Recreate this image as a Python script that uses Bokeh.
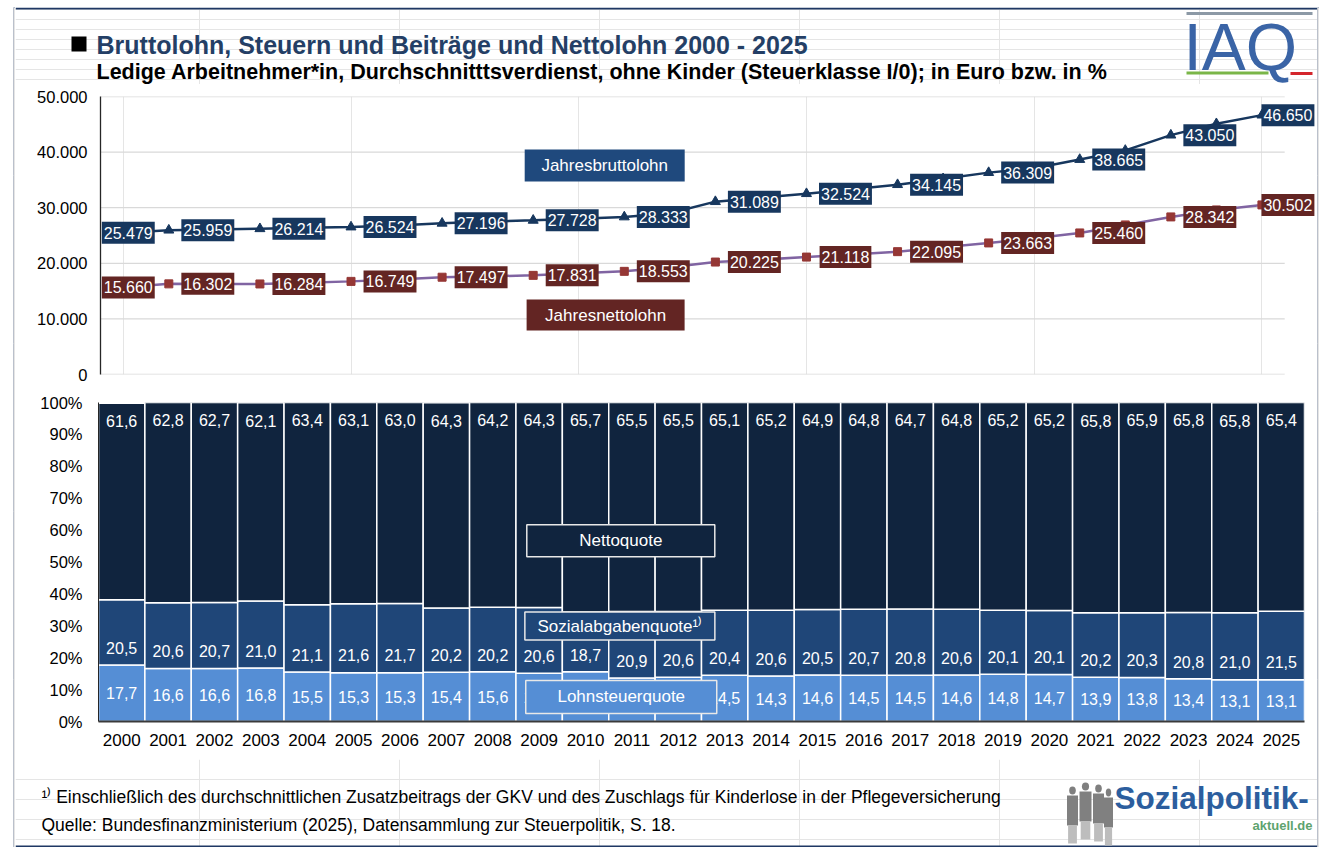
import numpy as np
from bokeh.plotting import figure
from bokeh.layouts import column, row
from bokeh.models import Range1d, FixedTicker, CustomJSTickFormatter, ColumnDataSource, Spacer
from bokeh.core.properties import value
from bokeh.embed import file_html
from bokeh.resources import INLINE

# ---------------- data ----------------
years = list(range(2000, 2026))
brutto = [25479, 25959, 26100, 26214, 26400, 26524, 26800, 27196, 27500, 27728,
          28000, 28333, 29000, 31089, 31800, 32524, 33300, 34145, 35200, 36309,
          37100, 38665, 40300, 43050, 45100, 46650]
netto = [15660, 16302, 16290, 16284, 16500, 16749, 17100, 17497, 17650, 17831,
         18200, 18553, 19300, 20225, 20650, 21118, 21600, 22095, 22900, 23663,
         24500, 25460, 26900, 28342, 29600, 30502]
label_years = [2000, 2001, 2003, 2005, 2007, 2009, 2011, 2013, 2015, 2017, 2019, 2021, 2023, 2025]

lohnsteuer_quote = [17.7, 16.6, 16.6, 16.8, 15.5, 15.3, 15.3, 15.4, 15.6, 15.1, 15.6, 13.6, 13.9,
                    14.5, 14.3, 14.6, 14.5, 14.5, 14.6, 14.8, 14.7, 13.9, 13.8, 13.4, 13.1, 13.1]
sozialabgaben_quote = [20.5, 20.6, 20.7, 21.0, 21.1, 21.6, 21.7, 20.2, 20.2, 20.6, 18.7, 20.9, 20.6,
                       20.4, 20.6, 20.5, 20.7, 20.8, 20.6, 20.1, 20.1, 20.2, 20.3, 20.8, 21.0, 21.5]
netto_quote = [61.6, 62.8, 62.7, 62.1, 63.4, 63.1, 63.0, 64.3, 64.2, 64.3, 65.7, 65.5, 65.5,
               65.1, 65.2, 64.9, 64.8, 64.7, 64.8, 65.2, 65.2, 65.8, 65.9, 65.8, 65.8, 65.4]

euro_ticks = [0, 10000, 20000, 30000, 40000, 50000]
pct_ticks = [0, 10, 20, 30, 40, 50, 60, 70, 80, 90, 100]

TITLE = "Bruttolohn, Steuern und Beiträge und Nettolohn 2000 - 2025"
SUBTITLE = "Ledige Arbeitnehmer*in, Durchschnitttsverdienst, ohne Kinder (Steuerklasse I/0); in Euro bzw. in %"
FOOTNOTE = "¹⁾ Einschließlich des durchschnittlichen Zusatzbeitrags der GKV und des Zuschlags für Kinderlose in der Pflegeversicherung"
SOURCE = "Quelle: Bundesfinanzministerium (2025), Datensammlung zur Steuerpolitik, S. 18."
SERIES_BRUTTO = "Jahresbruttolohn"
SERIES_NETTO = "Jahresnettolohn"
Q_NETTO = "Nettoquote"
Q_SOZIAL = "Sozialabgabenquote¹⁾"
Q_LOHN = "Lohnsteuerquote"

# ---------------- styles ----------------
FONT = "Liberation Sans"
F = value(FONT)
NAVY = "#17375E"
BRUTTO_BOX = "#1F497D"
RED = "#632523"
RED_MARK = "#953735"
PURPLE = "#8064A2"
NETTO_BAR = "#10243E"
SOZ_BAR = "#1F4678"
LOHN_BAR = "#558ED5"
FRAME = "#1F3864"

W = 1302                 # inner width of the bordered panel (page x 16 .. 1318)
X0, X1 = 16, 1318
H_TOTAL = 840
COMMON = dict(output_backend="svg", toolbar_location=None, frame_align=False)


def blank(h, y_top, y_bot):
    return figure(width=W, height=h, x_range=Range1d(X0, X1), y_range=Range1d(y_bot, y_top),
                  x_axis_location=None, y_axis_location=None, min_border=0,
                  outline_line_color=None, **COMMON)


def strip():
    return figure(width=2, height=H_TOTAL, x_axis_location=None, y_axis_location=None, min_border=0,
                  background_fill_color=FRAME, border_fill_color=FRAME, outline_line_color=None,
                  x_range=Range1d(0, 1), y_range=Range1d(0, 1), **COMMON)


def de_thousands(v):
    return f"{v:,}".replace(",", ".")


def de_dec(v):
    return f"{v:.1f}".replace(".", ",")


# ---------------- header (page y 8 .. 85) ----------------
p0 = blank(77, 8, 85)
p0.quad(left=[X0], right=[X1], top=[8], bottom=[10], fill_color=FRAME, line_color=None)
p0.quad(left=[72], right=[87], top=[37], bottom=[52], fill_color="black", line_color=None)
p0.text(x=[97], y=[45], text=[TITLE], text_font=F, text_font_style="bold",
        text_font_size="25px", text_color="#243F66", text_baseline="middle")
p0.text(x=[97], y=[72], text=[SUBTITLE], text_font=F, text_font_style="bold",
        text_font_size="21.5px", text_color="black", text_baseline="middle")
# IAQ logo
p0.segment(x0=[1187], x1=[1313], y0=[14], y1=[14], line_color="#8C99A6", line_width=3)
p0.text(x=[1184], y=[47], text=["IAQ"], text_font=F, text_font_size="66px",
        text_color="#3A64A6", text_baseline="middle")
p0.segment(x0=[1187], x1=[1269], y0=[73.5], y1=[73.5], line_color="#7AB648", line_width=3)
p0.segment(x0=[1291], x1=[1313], y0=[74], y1=[74], line_color="#D4262C", line_width=3)

# ---------------- line chart (page y 85 .. 390) ----------------
p1 = figure(width=W, height=305, x_range=Range1d(1999.5, 2026.22), y_range=Range1d(0, 50000),
            x_axis_location=None, min_border_left=85, min_border_right=0,
            min_border_top=12, min_border_bottom=15, outline_line_color=None, **COMMON)
p1.ygrid.visible = False
p1.segment(x0=1999.5, x1=2025.5, y0=euro_ticks, y1=euro_ticks, line_color="#D9D9D9", line_width=1.3)
p1.yaxis.ticker = FixedTicker(ticks=euro_ticks)
p1.yaxis.formatter = CustomJSTickFormatter(
    code="return Math.round(tick).toString().replace(/\\B(?=(\\d{3})+(?!\\d))/g, '.');")
p1.yaxis.major_tick_in = 0
p1.yaxis.major_tick_out = 0
p1.yaxis.minor_tick_line_color = None
p1.yaxis.axis_line_color = "#262626"
p1.yaxis.axis_line_width = 1.3
p1.yaxis.major_label_standoff = 13
p1.yaxis.major_label_text_font = FONT
p1.yaxis.major_label_text_font_size = "16.5px"
p1.yaxis.major_label_text_color = "black"

p1.line(years, brutto, line_color=NAVY, line_width=2.5)
p1.scatter(years, brutto, marker="triangle", size=10, color=NAVY)
p1.line(years, netto, line_color=PURPLE, line_width=2.5)
p1.scatter(years, netto, marker="square", size=8, color=RED_MARK)

label_dx = {2000: 5, 2025: 26}
b_map = dict(zip(years, brutto))
n_map = dict(zip(years, netto))
src_b = ColumnDataSource(dict(x=label_years, y=[b_map[y] for y in label_years],
                              t=[de_thousands(b_map[y]) for y in label_years],
                              dx=[label_dx.get(y, 39) for y in label_years]))
src_n = ColumnDataSource(dict(x=label_years, y=[n_map[y] for y in label_years],
                              t=[de_thousands(n_map[y]) for y in label_years],
                              dx=[label_dx.get(y, 39) for y in label_years]))
for src, col in ((src_b, NAVY), (src_n, RED)):
    p1.text(x="x", y="y", text="t", x_offset="dx", source=src, text_font=F, text_font_size="16px",
            text_color="white", text_align="center", text_baseline="middle",
            background_fill_color=col, padding=(2, 5))

p1.rect(x=[2010.57], y=[37590], width=[160], height=[32], width_units="screen", height_units="screen",
        fill_color=BRUTTO_BOX, line_color=None)
p1.text(x=[2010.57], y=[37590], text=[SERIES_BRUTTO], text_font=F, text_font_size="17px",
        text_color="white", text_align="center", text_baseline="middle")
p1.rect(x=[2010.59], y=[10700], width=[158], height=[31], width_units="screen", height_units="screen",
        fill_color=RED, line_color=None)
p1.text(x=[2010.59], y=[10700], text=[SERIES_NETTO], text_font=F, text_font_size="17px",
        text_color="white", text_align="center", text_baseline="middle")

# ---------------- stacked bars (page y 390 .. 760) ----------------
p2 = figure(width=W, height=370, x_range=Range1d(1999.5, 2025.5), y_range=Range1d(0, 100),
            min_border_left=83, min_border_right=13, min_border_top=13, min_border_bottom=38,
            outline_line_color=None, **COMMON)
p2.grid.visible = False
src = ColumnDataSource(dict(year=years, lohn=lohnsteuer_quote, sozial=sozialabgaben_quote, netto=netto_quote))
p2.vbar_stack(["lohn", "sozial", "netto"], x="year", width=1.0, source=src,
              fill_color=[LOHN_BAR, SOZ_BAR, NETTO_BAR], line_color="white", line_width=1.5)

l = np.array(lohnsteuer_quote)
s = np.array(sozialabgaben_quote)
n = np.array(netto_quote)
lab_kw = dict(text_font=F, text_font_size="16px", text_color="white",
              text_align="center", text_baseline="middle")
p2.text(x=years, y=list(l + s + n - 5.6), text=[de_dec(v) for v in n], **lab_kw)
p2.text(x=years, y=list(l + 5.4), text=[de_dec(v) for v in s], **lab_kw)
p2.text(x=years, y=list(l / 2), text=[de_dec(v) for v in l], **lab_kw)

for (cx, cy, w, h, fc, txt) in ((2010.76, 56.7, 188, 32, NETTO_BAR, Q_NETTO),
                                (2010.74, 29.9, 190, 28, SOZ_BAR, Q_SOZIAL),
                                (2010.77, 7.7, 191, 33, LOHN_BAR, Q_LOHN)):
    p2.rect(x=[cx], y=[cy], width=[w], height=[h], width_units="screen", height_units="screen",
            fill_color=fc, line_color="#E8E8E8", line_width=1.5)
    p2.text(x=[cx], y=[cy], text=[txt], text_font=F, text_font_size="17px", text_color="white",
            text_align="center", text_baseline="middle")

p2.yaxis.ticker = FixedTicker(ticks=pct_ticks)
p2.yaxis.formatter = CustomJSTickFormatter(code="return Math.round(tick) + '%';")
p2.xaxis.ticker = FixedTicker(ticks=years)
p2.xaxis.formatter = CustomJSTickFormatter(code="return String(Math.round(tick));")
for ax in (p2.xaxis, p2.yaxis):
    ax.major_tick_in = 0
    ax.major_tick_out = 0
    ax.minor_tick_line_color = None
    ax.major_label_text_font = FONT
    ax.major_label_text_color = "black"
p2.yaxis.major_label_text_font_size = "16.5px"
p2.xaxis.major_label_text_font_size = "17px"
p2.yaxis.major_label_standoff = 16
p2.yaxis.axis_line_color = "#262626"
p2.xaxis.major_label_standoff = 12
p2.xaxis.axis_line_color = "#3A3A3A"
p2.xaxis.axis_line_width = 2

# ---------------- footer (page y 760 .. 848) ----------------
p3 = blank(88, 760, 848)
p3.quad(left=[X0], right=[X1], top=[846], bottom=[848], fill_color=FRAME, line_color=None)
p3.text(x=[42], y=[797], text=[FOOTNOTE], text_font=F, text_font_size="17.5px",
        text_color="black", text_baseline="middle")
p3.text(x=[42], y=[825], text=[SOURCE], text_font=F, text_font_size="17.5px",
        text_color="black", text_baseline="middle")
# Sozialpolitik-aktuell logo (simplified silhouettes)
people_x = [1073, 1086, 1099, 1109]
people_top = [791, 787, 789, 793]
people_w = [11, 12, 11, 9]
for px, pt, pw in zip(people_x, people_top, people_w):
    p3.ellipse(x=[px], y=[pt], width=pw * 0.6, height=8, fill_color="#7F7F7F", line_color=None)
    p3.rect(x=[px], y=[pt + 20], width=pw, height=30, fill_color="#808080", line_color=None)
    p3.rect(x=[px], y=[pt + 44], width=pw * 0.8, height=18, fill_color="#BDBDBD", line_color=None)
p3.text(x=[1115], y=[798], text=["Sozialpolitik-"], text_font=F, text_font_style="bold",
        text_font_size="31.5px", text_color="#2C5E9E", text_baseline="middle")
p3.text(x=[1313], y=[826], text=["aktuell.de"], text_font=F, text_font_style="bold",
        text_font_size="13px", text_color="#5DA36E", text_baseline="middle", text_align="right")

panel = column(p0, p1, p2, p3, spacing=0)
framed = row(Spacer(width=13, height=H_TOTAL), strip(), panel, strip(), spacing=0)
layout = column(Spacer(width=10, height=7), framed, spacing=0)

open("out.html", "w").write(file_html(layout, INLINE))
